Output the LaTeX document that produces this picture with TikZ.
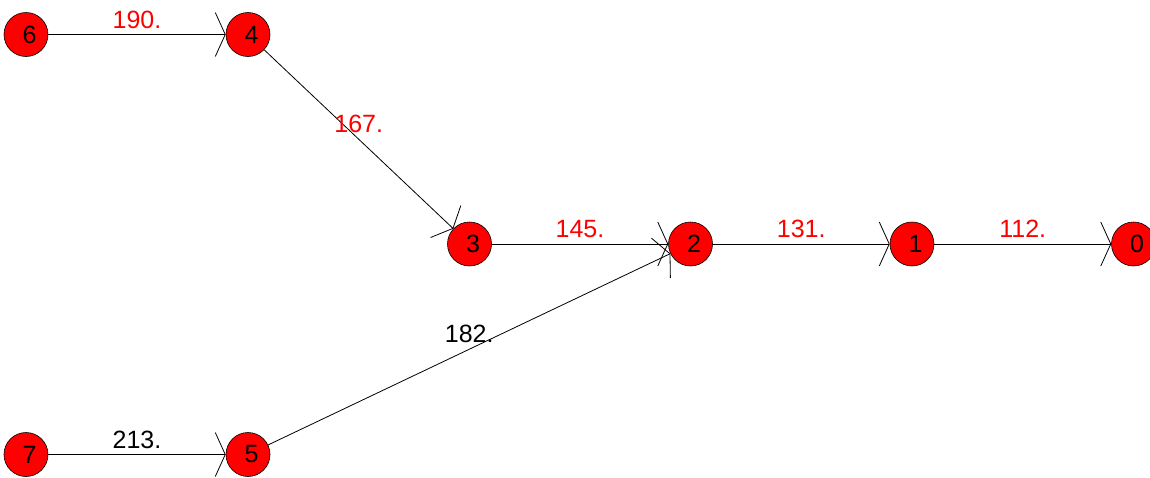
\documentclass[tikz,border=0pt]{standalone}
\usepackage{fontspec}
\setmainfont{Liberation Sans}
\usepackage{tikz}
\usetikzlibrary{arrows.meta}
\definecolor{vertexRed}{HTML}{FF0000}
\definecolor{weightRed}{HTML}{FF0000}
\tikzset{
  vertexnode/.style={circle, draw=black, fill=vertexRed, line width=0.6pt, minimum size=44pt, inner sep=0pt, font=\fontsize{25}{30}\selectfont, execute at begin node=\hspace*{7pt}},
  edgearrow/.style={-{Straight Barb[length=10pt,width=44pt,line width=0.8pt]}, line width=0.8pt, draw=black},
  weightlabel/.style={font=\fontsize{25}{30}\selectfont, text=#1, midway, yshift=15pt, inner sep=0pt},
}

\begin{document}
\begin{tikzpicture}[x=1pt,y=-1pt]
  \useasboundingbox (0,0) rectangle (1150,477);
  \node[vertexnode] (v6) at (26,34.5) {6};
  \node[vertexnode] (v4) at (248,34.5) {4};
  \node[vertexnode] (v3) at (469.5,244) {3};
  \node[vertexnode] (v2) at (690.5,244) {2};
  \node[vertexnode] (v1) at (912,244) {1};
  \node[vertexnode] (v0) at (1133.5,244) {0};
  \node[vertexnode] (v7) at (26,454.5) {7};
  \node[vertexnode] (v5) at (248,454.5) {5};

  \foreach \a/\b/\w/\c in {v6/v4/190./weightRed, v4/v3/167./weightRed, v3/v2/145./weightRed, v2/v1/131./weightRed, v1/v0/112./weightRed, v7/v5/213./black, v5/v2/182./black} { \draw[edgearrow] (\a) -- (\b) node[weightlabel=\c] {\w}; }
\end{tikzpicture}
\end{document}
